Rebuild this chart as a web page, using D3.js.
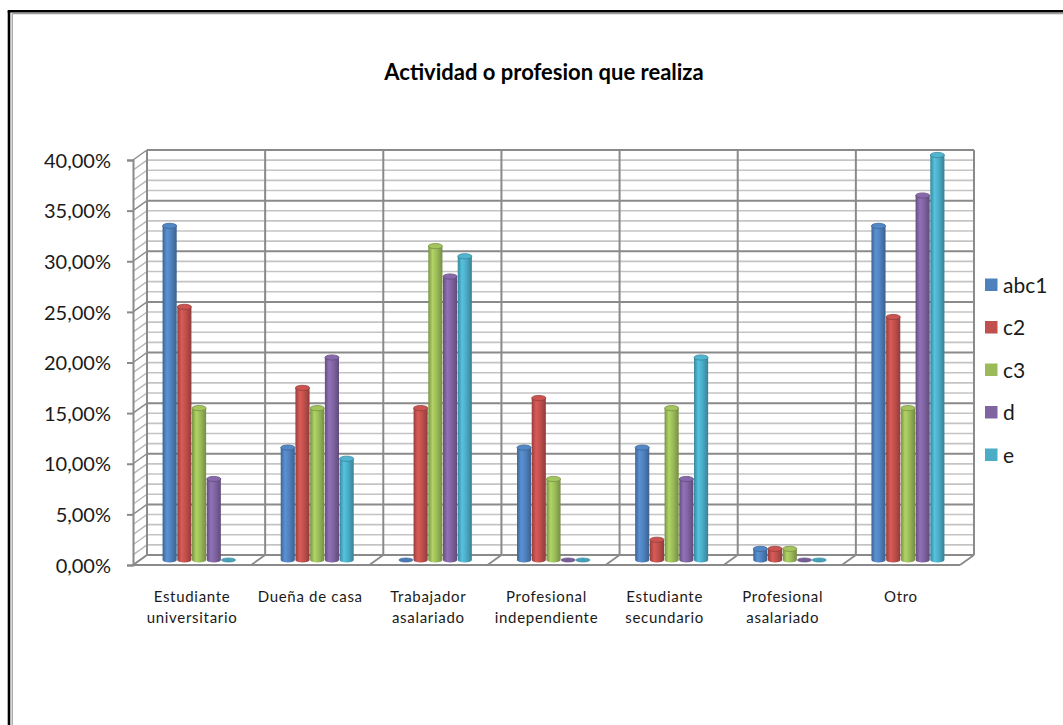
<!DOCTYPE html>
<html>
<head>
<meta charset="utf-8">
<script src="https://cdn.jsdelivr.net/npm/d3@7"></script>
<style>
  body { margin: 0; background: #fff; }
  svg { display: block; }
  text { font-family: Lato, "Open Sans", "Liberation Sans", sans-serif; fill: #1a1a1a; }
</style>
</head>
<body>
<svg id="chart" width="1063" height="725"></svg>
<script>
// ---- data ----
const title = "Actividad o profesion que realiza";
const categories = [
  "Estudiante\nuniversitario",
  "Dueña de casa",
  "Trabajador\nasalariado",
  "Profesional\nindependiente",
  "Estudiante\nsecundario",
  "Profesional\nasalariado",
  "Otro"
];
const seriesNames = ["abc1", "c2", "c3", "d", "e"];
const abc1 = [33.0, 11.1, 0, 11.1, 11.1, 1.1, 33.0];
const c2   = [25.0, 17.0, 15.0, 16.0, 2.0, 1.1, 24.0];
const c3   = [15.0, 15.0, 31.0, 8.0, 15.0, 1.1, 15.0];
const d    = [8.0, 20.0, 28.0, 0, 8.0, 0, 36.0];
const e    = [0, 10.0, 30.0, 0, 20.0, 0, 40.0];
const yTicks = [0, 5, 10, 15, 20, 25, 30, 35, 40];

const seriesValues = [abc1, c2, c3, d, e];
const palette = ["#4F81BD", "#C0504D", "#9BBB59", "#8064A2", "#4BACC6"];

// ---- geometry of the 3-D box ----
const svg = d3.select("#chart");
const depthX = 14, depthY = -10;        // offset from front plane to back wall
const plotLeft = 133, plotRight = 960;
const y = d3.scaleLinear().domain([0, 40]).range([565, 160]);
const x = d3.scaleBand().domain(categories).range([plotLeft, plotRight]).padding(0);
const xs = d3.scaleBand().domain(seriesNames).range([-36.5, 36.5]).paddingInner(0.04);
const color = d3.scaleOrdinal().domain(seriesNames).range(palette);

// ---- outer frame ----
svg.append("line").attr("x1", 9).attr("y1", 11).attr("x2", 9).attr("y2", 725)
  .attr("stroke", "#000").attr("stroke-width", 2.6);
svg.append("line").attr("x1", 7.7).attr("y1", 11.3).attr("x2", 1063).attr("y2", 11.3)
  .attr("stroke", "#000").attr("stroke-width", 2.6);
svg.append("line").attr("x1", 12.2).attr("y1", 13.6).attr("x2", 12.2).attr("y2", 725)
  .attr("stroke", "#9a9a9a").attr("stroke-width", 1.2);
svg.append("line").attr("x1", 12.2).attr("y1", 13.6).attr("x2", 1063).attr("y2", 13.6)
  .attr("stroke", "#9a9a9a").attr("stroke-width", 1.2);

// ---- title ----
svg.append("text").attr("x", 544).attr("y", 80).attr("text-anchor", "middle")
  .style("font-size", "22px").style("font-weight", "bold").style("fill", "#000")
  .text(title);

// ---- walls ----
const grid = svg.append("g");
const minorVals = d3.range(0, 41, 1);
const backL = plotLeft + depthX, backR = plotRight + depthX;

// back wall horizontal gridlines
grid.selectAll("line.hb").data(minorVals).join("line")
  .attr("x1", backL).attr("x2", backR)
  .attr("y1", v => y(v) + depthY).attr("y2", v => y(v) + depthY)
  .attr("stroke", v => v % 5 === 0 ? "#8a8a8a" : "#c4c4c4")
  .attr("stroke-width", v => v % 5 === 0 ? 2 : 1.6);

// side wall diagonals
grid.selectAll("line.hs").data(minorVals).join("line")
  .attr("x1", plotLeft).attr("x2", backL)
  .attr("y1", v => y(v)).attr("y2", v => y(v) + depthY)
  .attr("stroke", v => v % 5 === 0 ? "#8a8a8a" : "#b8b8b8")
  .attr("stroke-width", 1.4);

// category separators on back wall and floor
const bounds = categories.map(c => x(c)).concat([plotRight]);
grid.selectAll("line.vb").data(bounds).join("line")
  .attr("x1", b => b + depthX).attr("x2", b => b + depthX)
  .attr("y1", y(40) + depthY).attr("y2", y(0) + depthY)
  .attr("stroke", "#8a8a8a").attr("stroke-width", 2);
grid.selectAll("line.vf").data(bounds).join("line")
  .attr("x1", b => b).attr("x2", b => b + depthX)
  .attr("y1", y(0)).attr("y2", y(0) + depthY)
  .attr("stroke", "#8a8a8a").attr("stroke-width", 1.8);
// floor front edge
grid.append("line").attr("x1", plotLeft).attr("x2", plotRight)
  .attr("y1", y(0)).attr("y2", y(0)).attr("stroke", "#8a8a8a").attr("stroke-width", 2.2);
// back vertical edge of side wall
grid.append("line").attr("x1", backL).attr("x2", backL)
  .attr("y1", y(40) + depthY).attr("y2", y(0) + depthY)
  .attr("stroke", "#8a8a8a").attr("stroke-width", 2);

// ---- value axis ----
const fmt = v => d3.format(".2f")(v).replace(".", ",") + "%";
const yAxis = svg.append("g").attr("transform", `translate(${plotLeft},0)`)
  .call(d3.axisLeft(y).tickValues(yTicks).tickFormat(fmt).tickSize(6).tickPadding(16));
yAxis.select(".domain").attr("stroke", "#8a8a8a").attr("stroke-width", 2);
yAxis.selectAll(".tick line").attr("stroke", "#8a8a8a").attr("stroke-width", 2);
yAxis.selectAll(".tick text").style("font-size", "20px").style("font-family", "Lato, 'Open Sans', sans-serif")
  .attr("fill", "#1a1a1a").attr("dy", "0.36em");

// ---- cylinders ----
const defs = svg.append("defs");
seriesNames.forEach((s, i) => {
  const base = d3.color(palette[i]);
  const g = defs.append("linearGradient").attr("id", "cyl-" + s)
    .attr("x1", "0").attr("x2", "1").attr("y1", "0").attr("y2", "0");
  g.append("stop").attr("offset", "0%").attr("stop-color", base.darker(0.7));
  g.append("stop").attr("offset", "30%").attr("stop-color", base.brighter(0.35));
  g.append("stop").attr("offset", "60%").attr("stop-color", base);
  g.append("stop").attr("offset", "100%").attr("stop-color", base.darker(0.8));
});

const midX = depthX / 2, midY = depthY / 2;
const barData = [];
categories.forEach((c, ci) => {
  seriesNames.forEach((s, si) => {
    barData.push({ cat: c, series: s, value: seriesValues[si][ci] });
  });
});

const rx = xs.bandwidth() / 2, ry = 2.6;
const bars = svg.append("g").selectAll("g.bar").data(barData).join("g").attr("class", "bar");
bars.each(function (p) {
  const g = d3.select(this);
  const cx = x(p.cat) + x.bandwidth() / 2 + midX + xs(p.series) + rx;
  const yb = y(0) + midY;
  const yt = y(p.value) + midY;
  const base = d3.color(color(p.series));
  if (p.value <= 0) {
    g.append("ellipse").attr("cx", cx).attr("cy", yb).attr("rx", rx).attr("ry", ry * 0.8)
      .attr("fill", base.darker(0.2)).attr("stroke", base.darker(0.6)).attr("stroke-width", 0.6);
    return;
  }
  g.append("path")
    .attr("d", `M${cx - rx},${yt} L${cx - rx},${yb} A${rx},${ry} 0 0 0 ${cx + rx},${yb} L${cx + rx},${yt} Z`)
    .attr("fill", `url(#cyl-${p.series})`);
  g.append("ellipse").attr("cx", cx).attr("cy", yt).attr("rx", rx).attr("ry", ry)
    .attr("fill", base.brighter(0.15)).attr("stroke", base.darker(0.7)).attr("stroke-width", 0.8);
});

// ---- category labels ----
const xl = svg.append("g");
categories.forEach(c => {
  const lines = c.split("\n");
  const cx = x(c) + x.bandwidth() / 2;
  const t = xl.append("text").attr("text-anchor", "middle")
    .attr("x", cx).attr("y", 602)
    .style("font-size", "15px").style("letter-spacing", "0.7px");
  lines.forEach((ln, i) => t.append("tspan").attr("x", cx)
    .attr("dy", i === 0 ? 0 : 21).text(ln));
});

// ---- legend ----
const legend = svg.append("g").attr("transform", "translate(985,285)");
const li = legend.selectAll("g").data(seriesNames).join("g")
  .attr("transform", (s, i) => `translate(0,${i * 42.5})`);
li.append("rect").attr("x", 0).attr("y", -6.5).attr("width", 12.5).attr("height", 12.5)
  .attr("fill", s => color(s));
li.append("text").attr("x", 18).attr("y", 0).attr("dy", "0.36em")
  .style("font-size", "21px").text(s => s);
</script>
</body>
</html>
